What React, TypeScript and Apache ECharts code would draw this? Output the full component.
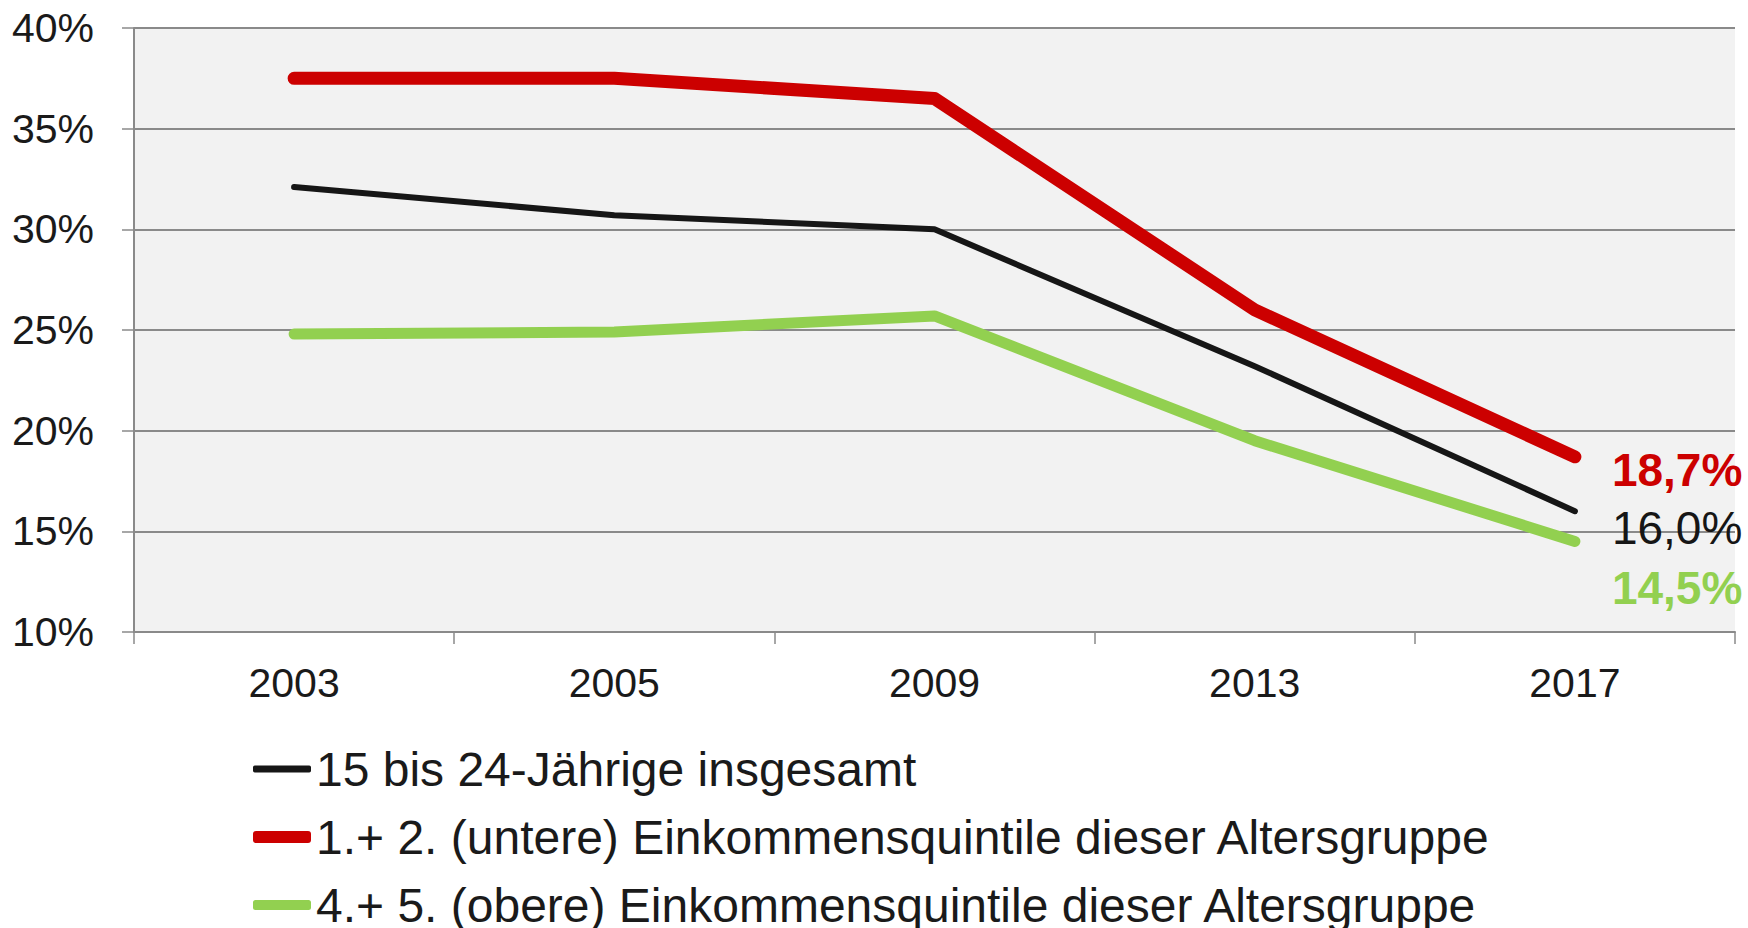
import React, { useEffect, useRef } from "react";
import * as echarts from "echarts";

const years = ["2003", "2005", "2009", "2013", "2017"];
const totalValues = [32.1, 30.7, 30.0, 23.2, 16.0];
const lowerValues = [37.5, 37.5, 36.5, 26.0, 18.7];
const upperValues = [24.8, 24.9, 25.7, 19.5, 14.5];
const seriesNames = [
  "15 bis 24-Jährige insgesamt",
  "1.+ 2. (untere) Einkommensquintile dieser Altersgruppe",
  "4.+ 5. (obere) Einkommensquintile dieser Altersgruppe",
];
const yTicks = { min: 10, max: 40, interval: 5 };

const FONT = "'Liberation Sans', Arial, sans-serif";
const TEXT = "#1a1a1a";
const AXIS = "#8a8a8a";
const BLACK = "#161616";
const RED = "#cc0000";
const GREEN = "#92d050";

const fmt = (v: number) => v.toFixed(1).replace(".", ",") + "%";

export default function App() {
  const ref = useRef<HTMLDivElement>(null);
  useEffect(() => {
    if (!ref.current) return;
    const chart = echarts.init(ref.current, undefined, { renderer: "svg" });
    const mkSeries = (
      name: string,
      data: number[],
      color: string,
      width: number,
      bold: boolean,
      dy: number,
      z: number
    ) => ({
      name,
      type: "line",
      data,
      symbol: "none",
      z,
      lineStyle: { color, width, cap: "round", join: "round" },
      itemStyle: { color },
      endLabel: {
        show: true,
        formatter: (p: any) => fmt(p.value),
        color,
        fontFamily: FONT,
        fontSize: 46,
        fontWeight: bold ? "bold" : "normal",
        distance: 0,
        offset: [37, dy],
      },
    });
    const mkLegend = (name: string, color: string, h: number, top: number) => ({
      show: true,
      orient: "vertical",
      left: 253,
      top,
      padding: 0,
      icon: "roundRect",
      itemWidth: 58,
      itemHeight: h,
      itemGap: 4,
      data: [{ name, itemStyle: { color } }],
      textStyle: { fontFamily: FONT, fontSize: 48, color: TEXT },
      selectedMode: false,
    });
    chart.setOption({
      animation: false,
      grid: { left: 134, top: 28, right: 13, bottom: 296, containLabel: false, show: true, backgroundColor: "#f2f2f2", borderWidth: 0 },
      xAxis: {
        type: "category",
        data: years,
        boundaryGap: true,
        axisLine: { show: true, lineStyle: { color: AXIS, width: 2 } },
        axisTick: { show: true, length: 12, inside: false, alignWithLabel: false, lineStyle: { color: AXIS, width: 1.5 } },
        axisLabel: { fontFamily: FONT, fontSize: 41, color: TEXT, margin: 30 },
        splitLine: { show: false },
      },
      yAxis: {
        type: "value",
        min: yTicks.min,
        max: yTicks.max,
        interval: yTicks.interval,
        axisLine: { show: true, lineStyle: { color: AXIS, width: 2 } },
        axisTick: { show: true, length: 12, lineStyle: { color: AXIS, width: 1.5 } },
        axisLabel: { fontFamily: FONT, fontSize: 41, color: TEXT, margin: 40, formatter: "{value}%" },
        splitLine: { show: true, lineStyle: { color: AXIS, width: 2 } },
      },
      legend: [
        mkLegend(seriesNames[0], BLACK, 7, 745),
        mkLegend(seriesNames[1], RED, 12, 813),
        mkLegend(seriesNames[2], GREEN, 10, 881),
      ],
      series: [
        mkSeries(seriesNames[0], totalValues, BLACK, 6, false, 17, 3),
        mkSeries(seriesNames[1], lowerValues, RED, 13, true, 13, 2),
        mkSeries(seriesNames[2], upperValues, GREEN, 11, true, 47, 1),
      ],
    });
    return () => chart.dispose();
  }, []);
  return (
    <div
      ref={ref}
      style={{ position: "fixed", left: 0, top: 0, width: 1748, height: 928, background: "#ffffff" }}
    />
  );
}
